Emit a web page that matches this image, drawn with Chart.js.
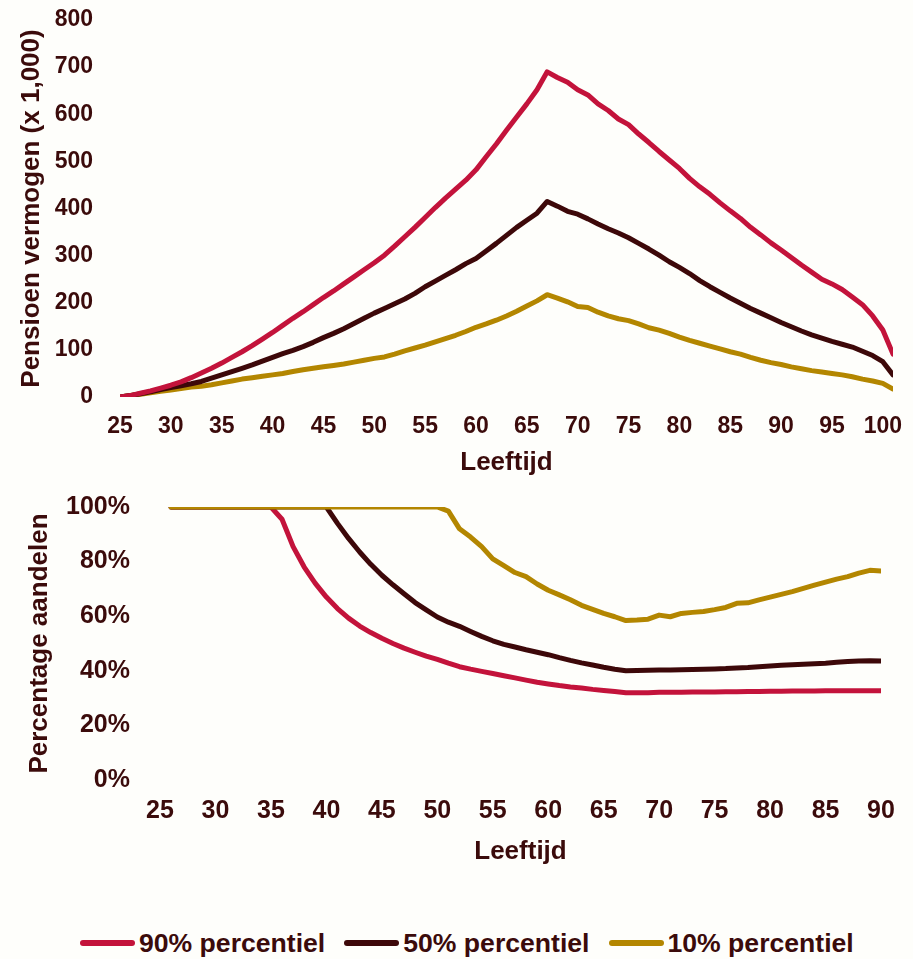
<!DOCTYPE html>
<html>
<head>
<meta charset="utf-8">
<script src="https://cdn.jsdelivr.net/npm/chart.js@4/dist/chart.umd.min.js"></script>
<style>
  html, body { margin: 0; padding: 0; background: #fefefb; }
  body { width: 913px; height: 959px; position: relative; overflow: hidden; font-family: "Liberation Sans", Arial, sans-serif; }
  canvas { position: absolute; left: 0; }
  #topChart { top: 0; }
  #bottomChart { top: 470px; }
  #legend { position: absolute; left: 80px; top: 926px; height: 34px; display: flex; align-items: center; white-space: nowrap; }
  .item { display: flex; align-items: center; margin-right: 19px; }
  .bar { width: 55px; height: 6px; border-radius: 3px; margin-right: 4px; }
  .txt { font: bold 26.6px "Liberation Sans", Arial, sans-serif; color: #3b0b0b; }
</style>
</head>
<body>
<canvas id="topChart" width="913" height="478"></canvas>
<canvas id="bottomChart" width="913" height="397"></canvas>
<div id="legend"></div>
<script>
// ---------- DATA ----------
const seriesNames = ["90% percentiel", "50% percentiel", "10% percentiel"];
const seriesColors = ["#c3133b", "#3d0809", "#b38600"];

// Top panel: pension wealth (x 1,000) by age
const agesTop = [25,26,27,28,29,30,31,32,33,34,35,36,37,38,39,40,41,42,43,44,45,46,47,48,49,50,51,52,53,54,55,56,57,58,59,60,61,62,63,64,65,66,67,68,69,70,71,72,73,74,75,76,77,78,79,80,81,82,83,84,85,86,87,88,89,90,91,92,93,94,95,96,97,98,99,100,101];
const wealthP90 = [0,3,8,13,19,25,32,41,51,61, 72,84,96,109,123,137,152,167,181,196, 211,225,240,255,270,285,301,320,340,360, 381,402,422,441,460,482,510,537,566,594, 622,652,690,678,668,652,641,622,608,590, 578,558,540,521,503,485,464,446,430,412, 395,379,360,344,327,312,296,280,265,250, 240,228,212,196,172,142,91];
const wealthP50 = [0,3,7,11,16,20,24,28,33,40, 47,54,61,68,76,84,92,99,107,116, 126,135,145,156,167,178,188,198,208,220, 234,246,258,270,283,294,310,326,343,360, 375,390,415,405,394,388,378,367,357,348, 338,326,314,301,287,275,262,247,234,222, 210,199,188,178,168,158,149,140,132,125, 118,112,106,97,88,75,47];
const wealthP10 = [0,3,6,9,12,15,18,21,23,26, 30,34,38,41,44,47,50,54,58,61, 64,67,70,74,78,82,85,91,98,104, 110,117,124,131,139,148,155,163,172,182, 193,204,217,210,202,192,190,180,172,166, 162,155,147,142,135,127,120,114,108,102, 96,91,84,78,73,69,64,60,56,53, 50,47,43,38,34,29,17];
const xTicksTop = [25,30,35,40,45,50,55,60,65,70,75,80,85,90,95,100];
const yTicksTop = [0,100,200,300,400,500,600,700,800];

// Bottom panel: percentage equity by age
const agesBottom = [26,27,28,29,30,31,32,33,34,35,36,37,38,39,40,41,42,43,44,45,46,47,48,49,50,51,52,53,54,55,56,57,58,59,60,61,62,63,64,65,66,67,68,69,70,71,72,73,74,75,76,77,78,79,80,81,82,83,84,85,86,87,88,89,90];
const equityP90 = [100,100,100,100,100,100,100,100,100,100, 95.5,85.5,78,72,67,62.8,59.3,56.4,54,51.9, 50,48.3,46.8,45.4,44.2,42.8,41.5,40.6,39.8,39, 38.2,37.4,36.6,35.8,35.2,34.6,34.1,33.7,33.2,32.8, 32.4,32,32,32,32.1,32.1,32.1,32.2,32.2,32.2, 32.3,32.3,32.4,32.4,32.5,32.5,32.6,32.6,32.6,32.7, 32.7,32.7,32.7,32.7,32.7];
const equityP50 = [100,100,100,100,100,100,100,100,100,100, 100,100,100,100,100,94,88.5,83.5,79,75, 71.5,68.2,65,62.3,59.7,57.8,56.3,54.4,52.6,51, 49.7,48.7,47.7,46.8,45.9,44.8,43.8,42.9,42.1,41.3, 40.6,40,40.1,40.2,40.3,40.3,40.4,40.5,40.6,40.7, 40.8,41,41.2,41.5,41.8,42,42.2,42.4,42.6,42.8, 43.1,43.4,43.6,43.7,43.6];
const equityP10 = [100,100,100,100,100,100,100,100,100,100, 100,100,100,100,100,100,100,100,100,100, 100,100,100,100,100,98.5,92,89,85.5,81, 78.5,76,74.5,71.8,69.5,67.8,66,64,62.5,61, 59.8,58.4,58.6,58.9,60.4,59.8,61,61.4,61.7,62.4, 63.2,64.7,64.9,66,67,68,69,70.2,71.4,72.5, 73.6,74.5,75.8,76.8,76.6];
const xTicksBottom = [25,30,35,40,45,50,55,60,65,70,75,80,85,90];
const yTicksBottom = [0,20,40,60,80,100];

const axisTitleTop = "Pensioen vermogen (x 1,000)";
const axisTitleBottom = "Percentage aandelen";
const axisTitleX = "Leeftijd";

// ---------- STYLE ----------
const textColor = "#3b0b0b";
const family = '"Liberation Sans", Arial, sans-serif';

function pts(xs, ys) { return xs.map((x, i) => ({ x: x, y: ys[i] })); }
function ds(label, data, color, order) {
  return { label, data, borderColor: color, backgroundColor: color, borderWidth: 5,
           pointRadius: 0, tension: 0, borderCapStyle: 'round', borderJoinStyle: 'round', order };
}
function setTicks(list) { return function (scale) { scale.ticks = list.map(v => ({ value: v })); }; }
function fixBox(w, h) {
  return function (s) {
    if (w !== null) s.width = w;
    if (h !== null) s.height = h;
    s.paddingTop = 0; s.paddingBottom = 0; s.paddingLeft = 0; s.paddingRight = 0;
  };
}

Chart.defaults.animation = false;
Chart.defaults.color = textColor;

new Chart(document.getElementById('topChart'), {
  type: 'line',
  data: { datasets: [
    ds(seriesNames[0], pts(agesTop, wealthP90), seriesColors[0], 0),
    ds(seriesNames[1], pts(agesTop, wealthP50), seriesColors[1], 1),
    ds(seriesNames[2], pts(agesTop, wealthP10), seriesColors[2], 2)
  ]},
  options: {
    responsive: false, devicePixelRatio: 1,
    layout: { padding: { left: 16, right: 20, top: 20, bottom: 0 } },
    plugins: { legend: { display: false }, tooltip: { enabled: false } },
    scales: {
      x: { type: 'linear', min: 25, max: 101,
           afterBuildTicks: setTicks(xTicksTop),
           afterFit: fixBox(null, 81),
           grid: { display: false, drawTicks: false }, border: { display: false },
           ticks: { padding: 16, color: textColor, font: { family, size: 23, weight: 'bold' }, maxRotation: 0, autoSkip: false },
           title: { display: true, text: axisTitleX, color: textColor, padding: 0, font: { family, size: 26, weight: 'bold' } } },
      y: { type: 'linear', min: 0, max: 800,
           afterBuildTicks: setTicks(yTicksTop),
           afterFit: fixBox(104, null),
           grid: { display: false, drawTicks: false }, border: { display: false },
           ticks: { padding: 27, color: textColor, font: { family, size: 23, weight: 'bold' } },
           title: { display: true, text: axisTitleTop, color: textColor, padding: 0, font: { family, size: 26, weight: 'bold' } } }
    }
  }
});

new Chart(document.getElementById('bottomChart'), {
  type: 'line',
  data: { datasets: [
    ds(seriesNames[0], pts(agesBottom, equityP90), seriesColors[0], 2),
    ds(seriesNames[1], pts(agesBottom, equityP50), seriesColors[1], 1),
    ds(seriesNames[2], pts(agesBottom, equityP10), seriesColors[2], 0)
  ]},
  options: {
    responsive: false, devicePixelRatio: 1,
    layout: { padding: { left: 24, right: 32, top: 37, bottom: 0 } },
    plugins: { legend: { display: false }, tooltip: { enabled: false } },
    scales: {
      x: { type: 'linear', min: 25, max: 90,
           afterBuildTicks: setTicks(xTicksBottom),
           afterFit: fixBox(null, 87),
           grid: { display: false, drawTicks: false }, border: { display: false },
           ticks: { padding: 16, color: textColor, font: { family, size: 25, weight: 'bold' }, maxRotation: 0, autoSkip: false },
           title: { display: true, text: axisTitleX, color: textColor, padding: 0, font: { family, size: 26, weight: 'bold' } } },
      y: { type: 'linear', min: 0, max: 100,
           afterBuildTicks: setTicks(yTicksBottom),
           afterFit: fixBox(136, null),
           grid: { display: false, drawTicks: false }, border: { display: false },
           ticks: { padding: 30, color: textColor, font: { family, size: 25, weight: 'bold' }, callback: v => v + '%' },
           title: { display: true, text: axisTitleBottom, color: textColor, padding: 0, font: { family, size: 26, weight: 'bold' } } }
    }
  }
});

// Legend (HTML)
const legend = document.getElementById('legend');
seriesNames.forEach((name, i) => {
  const item = document.createElement('div'); item.className = 'item';
  const bar = document.createElement('div'); bar.className = 'bar'; bar.style.background = seriesColors[i];
  const txt = document.createElement('span'); txt.className = 'txt'; txt.textContent = name;
  item.appendChild(bar); item.appendChild(txt); legend.appendChild(item);
});
</script>
</body>
</html>
